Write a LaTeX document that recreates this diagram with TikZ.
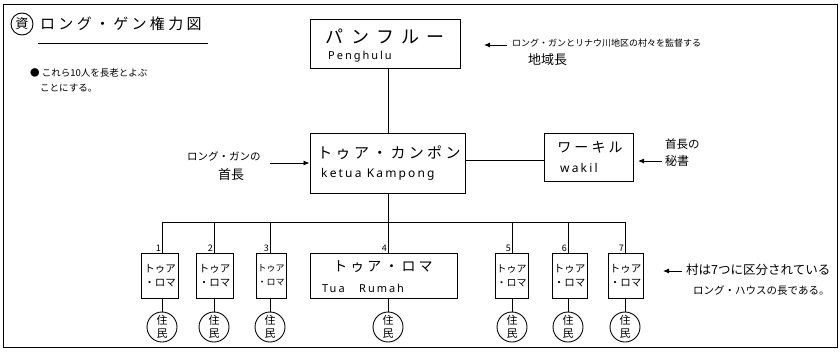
\documentclass[tikz,border=0pt]{standalone}
\usepackage{fontspec}
\setmainfont{Noto Sans CJK JP}
\newfontfamily\jp{Noto Sans CJK JP}
\newfontfamily\jpw[LetterSpace=22]{Noto Sans CJK JP}
\newfontfamily\jpww[LetterSpace=40]{Noto Sans CJK JP}
\newfontfamily\lat[LetterSpace=18]{Noto Sans}
\newcommand\fsz[1]{\fontsize{#1}{#1}\selectfont}
\usetikzlibrary{arrows.meta}
\begin{document}
\begin{tikzpicture}[x=1pt,y=-1pt,
  box/.style={draw, line width=1pt, inner sep=0pt},
  conn/.style={line width=1pt},
  arr/.style={line width=0.9pt, -{Latex[length=6pt,width=5pt]}},
  res/.style={draw, circle, minimum size=30pt, inner sep=0pt, line width=0.9pt, font=\jp\fontsize{11}{12.5}\selectfont, align=center},
  txt/.style={inner sep=0pt},
  small/.style={box, minimum height=45pt, font=\jp\fontsize{10.5}{14}\selectfont, align=center},
  num/.style={inner sep=0pt, font=\jp\fsz{9}}
]
\useasboundingbox (0,0) rectangle (840,361);
% frame
\draw[line width=1pt] (3,5) rectangle (837,347);
% title
\node[draw, circle, minimum size=22pt, inner sep=0pt, line width=0.9pt, font=\jp\fsz{13}] (mark) at (22,24) {資};
\node[txt, anchor=west, font=\jpw\fsz{15}] (title) at (40,24) {ロング・ゲン権力図};
\coordinate (ul1) at (38,44);
\coordinate (ul2) at (208,44);
\draw[line width=1pt] (ul1) -- (ul2);
% note
\node[txt, anchor=west, font=\jp\fsz{9.5}] (note1) at (30,73) {● これら10人を長老とよぶ};
\node[txt, anchor=west, font=\jp\fsz{9.5}] (note2) at (40,88) {ことにする。};

% Penghulu
\node[box, minimum width=150pt, minimum height=48pt] (pen) at (385,44) {};
\node[txt, font=\jpww\fsz{18}] (penj) at (385,36) {パンフルー};
\node[txt, anchor=west, font=\lat\fsz{11}] (penl) at (328,57) {Penghulu};
\coordinate (pa) at (507,45);
\coordinate (pb) at (484,45);
\draw[arr] (pa) -- (pb);
\node[txt, anchor=west, font=\jp\fsz{9}] (pnote1) at (512,43) {ロング・ガンとリナウ川地区の村々を監督する};
\node[txt, anchor=west, font=\jp\fsz{13}] (pnote2) at (528,60) {地域長};

% Ketua Kampong
\node[box, minimum width=155pt, minimum height=60pt] (ket) at (387.5,163) {};
\node[txt, font=\jpw\fsz{15}] (ketj) at (389,153) {トゥア・カンポン};
\node[txt, anchor=west, font=\lat\fsz{12}] (ketl) at (321,174) {ketua Kampong};
\draw[conn] (pen.south -| 388,0) -- (ket.north -| 388,0);
\node[txt, anchor=west, font=\jp\fsz{10.5}] (knote1) at (187,156) {ロング・ガンの};
\node[txt, anchor=west, font=\jp\fsz{13}] (knote2) at (218,175) {首長};
\coordinate (ka) at (270,163);
\draw[arr] (ka) -- (ket.west |- ka);

% Wakil
\node[box, minimum width=89pt, minimum height=48pt] (wak) at (588.5,157) {};
\node[txt, font=\jpw\fsz{14}] (wakj) at (590,147) {ワーキル};
\node[txt, anchor=west, font=\lat\fsz{12}] (wakl) at (560,168) {wakil};
\draw[conn] (ket.east |- 0,160) -- (wak.west |- 0,160);
\node[txt, anchor=west, font=\jp\fsz{11.5}] (wnote1) at (665,144) {首長の};
\node[txt, anchor=west, font=\jp\fsz{12}] (wnote2) at (665,161) {秘書};
\coordinate (wa) at (662,161);
\coordinate (wb) at (638,161);
\draw[arr] (wa) -- (wb);

% bus
\coordinate (bus) at (388,222);
\draw[conn] (ket.south -| bus) -- (bus);
\coordinate (busL) at (162,222);
\coordinate (busR) at (625,222);
\draw[conn] (busL) -- (busR);

% Tua Rumah boxes
\node[small, minimum width=37pt] (b1) at (160,275.5) {トゥア\\・ロマ};
\node[small, minimum width=37pt] (b2) at (214.5,275.5) {トゥア\\・ロマ};
\node[small, minimum width=30pt, font=\jp\fontsize{9}{14}\selectfont] (b3) at (271,275.5) {トゥア\\・ロマ};
\node[box, minimum width=147pt, minimum height=45pt] (b4) at (383.5,275.5) {};
\node[txt, font=\jpw\fsz{14}] (b4j) at (383,267) {トゥア・ロマ};
\node[txt, anchor=west, font=\lat\fsz{11}] (b4l) at (322,288) {Tua\ \ \ Rumah};
\node[small, minimum width=33pt, font=\jp\fontsize{10}{14}\selectfont] (b5) at (511.5,275.5) {トゥア\\・ロマ};
\node[small, minimum width=35pt] (b6) at (569.5,275.5) {トゥア\\・ロマ};
\node[small, minimum width=35pt] (b7) at (625.5,275.5) {トゥア\\・ロマ};

\foreach \b/\x/\n in {b1/162/1, b2/214/2, b3/270/3, b4/388/4, b5/512/5, b6/568/6, b7/625/7}{
  \draw[conn] (\x,222) -- (\b.north -| \x,0);
  \node[num, anchor=south east] at ([xshift=-1pt,yshift=1pt]\b.north -| \x,0) {\n};
}

% residents
\foreach \b/\x/\i in {b1/162/1, b2/214/2, b3/270/3, b4/388/4, b5/512/5, b6/568/6, b7/625/7}{
  \node[res] (r\i) at (\x,327) {住\\民};
  \draw[conn] (\b.south -| \x,0) -- (r\i.north);
}

% right note
\coordinate (ra) at (682,271);
\coordinate (rb) at (663,271);
\draw[arr] (ra) -- (rb);
\node[txt, anchor=west, font=\jp\fsz{12.5}] (rnote1) at (686,270) {村は7つに区分されている};
\node[txt, anchor=west, font=\jp\fsz{10.5}] (rnote2) at (693,291) {ロング・ハウスの長である。};
\end{tikzpicture}
\end{document}
